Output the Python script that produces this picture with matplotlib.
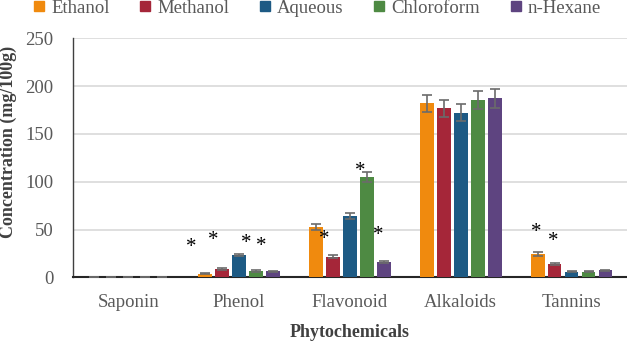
import numpy as np
import matplotlib
matplotlib.use("Agg")
import matplotlib.pyplot as plt
from matplotlib.lines import Line2D

# Data
categories = ["Saponin", "Phenol", "Flavonoid", "Alkaloids", "Tannins"]
solvents = ["Ethanol", "Methanol", "Aqueous", "Chloroform", "n-Hexane"]

ethanol = [0, 3.8, 52.7, 182.2, 24.2]
methanol = [0, 9.0, 21.5, 176.9, 14.0]
aqueous = [0, 23.5, 64.3, 172.4, 6.0]
chloroform = [0, 6.8, 105.0, 185.7, 6.0]
hexane = [0, 6.5, 16.0, 187.1, 7.2]

ethanol_err = [0, 0.8, 3.0, 9.0, 2.0]
methanol_err = [0, 0.8, 1.5, 9.0, 1.0]
aqueous_err = [0, 1.2, 3.5, 8.5, 0.6]
chloroform_err = [0, 0.8, 5.0, 9.5, 0.6]
hexane_err = [0, 0.6, 1.0, 9.5, 0.6]

# significance markers (x in category units, y in mg/100g)
star_x = [0.567, 0.763, 1.069, 1.199, 1.770, 2.092, 2.257, 3.678, 3.837]
star_y = [31.0, 38.5, 35.0, 32.5, 39.5, 110.5, 43.5, 47.0, 37.0]

colors = ["#F08A0E", "#A52639", "#1D5A84", "#4E8A43", "#5E4480"]

plt.rcParams["font.family"] = ["Liberation Serif", "DejaVu Serif"]

fig = plt.figure(figsize=(6.27, 3.42), dpi=100)
ax = fig.add_axes([0.116, 0.189, 0.884, 0.699])

series = [ethanol, methanol, aqueous, chloroform, hexane]
errors = [ethanol_err, methanol_err, aqueous_err, chloroform_err, hexane_err]
x = np.arange(len(categories))
step = 0.153
width = 0.124

for i, (vals, errs) in enumerate(zip(series, errors)):
    pos = x + (i - 2) * step
    ax.bar(pos, vals, width, color=colors[i], zorder=3, label=solvents[i])
    ax.errorbar(pos, vals, yerr=errs, fmt="none", ecolor="#6b6b6b",
                elinewidth=1.2, capsize=3.5, capthick=1.2, zorder=4)

for sx, sy in zip(star_x, star_y):
    ax.text(sx, sy, "*", ha="center", va="center", fontsize=15,
            color="black", zorder=5)

ax.set_xlim(-0.5, 4.5)
ax.set_ylim(0, 250)
ax.set_yticks(np.arange(0, 251, 50))
ax.set_xticks(x)
ax.set_xticklabels(categories)

ax.tick_params(axis="x", length=0, pad=12, labelsize=13.5, labelcolor="#595959")
ax.tick_params(axis="y", length=0, pad=14, labelsize=13.5, labelcolor="#595959")

ax.grid(axis="y", color="#d9d9d9", linewidth=1.2, zorder=0)
ax.set_axisbelow(True)
for s in ["top", "right"]:
    ax.spines[s].set_visible(False)
ax.spines["left"].set_color("#404040")
ax.spines["left"].set_linewidth(1.0)
ax.spines["bottom"].set_color("#262626")
ax.spines["bottom"].set_linewidth(1.5)

ax.set_xlabel("Phytochemicals", fontsize=13, fontweight="bold", color="#404040")
ax.xaxis.set_label_coords(0.5, -0.195)
ax.set_ylabel("Concentration (mg/100g)", fontsize=13, fontweight="bold", color="#404040")
ax.yaxis.set_label_coords(-0.1, 0.565)

handles = [Line2D([], [], marker="s", linestyle="none", markersize=6.5,
                  color=c) for c in colors]
fig.legend(handles, solvents, loc="center", bbox_to_anchor=(0.506, 0.976),
           ncol=5, frameon=False, fontsize=13.5, handlelength=0.6,
           handletextpad=0.35, columnspacing=1.6, borderpad=0,
           labelcolor="#595959")

fig.savefig("out.png", dpi=100)
